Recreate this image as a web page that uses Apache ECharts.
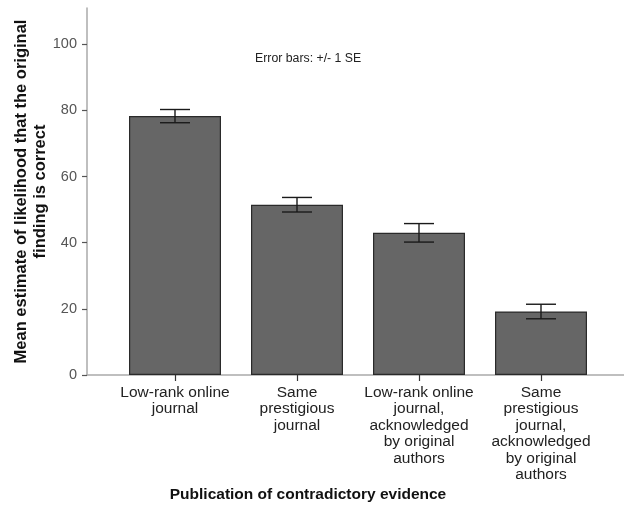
<!DOCTYPE html>
<html>
<head>
<meta charset="utf-8">
<script src="https://cdn.jsdelivr.net/npm/echarts@6/dist/echarts.min.js"></script>
<style>html,body{margin:0;padding:0;background:#fff;}#chart{width:624px;height:517px;}</style>
</head>
<body>
<div id="chart"></div>
<script>
const categories = [
  "Low-rank online\njournal",
  "Same\nprestigious\njournal",
  "Low-rank online\njournal,\nacknowledged\nby original\nauthors",
  "Same\nprestigious\njournal,\nacknowledged\nby original\nauthors"
];
const means = [78.3, 51.5, 43.0, 19.2];
const se = [2.0, 2.2, 2.8, 2.2];
const yTicks = [0, 20, 40, 60, 80, 100];
const yMax = 111;
const yTitle = "Mean estimate of likelihood that the original\nfinding is correct";
const xTitle = "Publication of contradictory evidence";
const note = "Error bars: +/- 1 SE";

const FONT = "Liberation Sans, Arial, sans-serif";
const chart = echarts.init(document.getElementById('chart'));
const errData = means.map((m, i) => [i, m - se[i], m + se[i]]);

chart.setOption({
  animation: false,
  backgroundColor: '#fff',
  title: [{
    text: xTitle, left: 303, top: 482, textAlign: 'center',
    textStyle: { fontFamily: FONT, fontSize: 15.5, fontWeight: 'bold', color: '#111' }
  }, {
    text: note, left: 250, top: 48,
    textStyle: { fontFamily: FONT, fontSize: 12.3, fontWeight: 'normal', color: '#222' }
  }],
  grid: [
    { left: 87, right: 0, top: 8, bottom: 142, containLabel: false, outerBoundsMode: 'none' },
    { left: 114, right: 22, top: 8, bottom: 142, containLabel: false, outerBoundsMode: 'none' }
  ],
  xAxis: [
    { type: 'value', gridIndex: 0, min: 0, max: 1,
      axisLine: { show: true, lineStyle: { color: '#aaa', width: 1.5 } },
      axisTick: { show: false }, axisLabel: { show: false }, splitLine: { show: false } },
    { type: 'category', gridIndex: 1, data: categories,
      axisLine: { show: false },
      axisTick: { show: true, alignWithLabel: true, length: 6, lineStyle: { color: '#333', width: 1.2 } },
      axisLabel: { fontFamily: FONT, fontSize: 15.5, lineHeight: 16.5, color: '#222', margin: 9, interval: 0 } }
  ],
  yAxis: [
    { type: 'value', gridIndex: 0, min: 0, max: yMax,
      name: yTitle, nameLocation: 'middle', nameGap: 37, nameRotate: 90, nameMoveOverlap: false,
      nameTextStyle: { fontFamily: FONT, fontSize: 16.5, fontWeight: 'bold', color: '#111', lineHeight: 19 },
      axisLine: { show: true, lineStyle: { color: '#aaa', width: 1.5 } },
      axisTick: { show: true, length: 5, customValues: yTicks, lineStyle: { color: '#555', width: 1.2 } },
      axisLabel: { customValues: yTicks, fontFamily: FONT, fontSize: 14.5, color: '#555', margin: 10 },
      splitLine: { show: false } },
    { type: 'value', gridIndex: 1, min: 0, max: yMax, show: false }
  ],
  series: [
    { type: 'bar', xAxisIndex: 1, yAxisIndex: 1, data: means, barWidth: 92,
      itemStyle: { color: '#666666', borderColor: '#2a2a2a', borderWidth: 1.2 } },
    { type: 'custom', xAxisIndex: 1, yAxisIndex: 1, data: errData, z: 5,
      renderItem: function (params, api) {
        const x = api.value(0);
        const lo = api.coord([x, api.value(1)]);
        const hi = api.coord([x, api.value(2)]);
        const hw = 15;
        const style = { stroke: '#1a1a1a', lineWidth: 1.4 };
        return { type: 'group', children: [
          { type: 'line', shape: { x1: lo[0], y1: lo[1], x2: hi[0], y2: hi[1] }, style: style },
          { type: 'line', shape: { x1: lo[0] - hw, y1: lo[1], x2: lo[0] + hw, y2: lo[1] }, style: style },
          { type: 'line', shape: { x1: hi[0] - hw, y1: hi[1], x2: hi[0] + hw, y2: hi[1] }, style: style }
        ]};
      } }
  ]
});
</script>
</body>
</html>
